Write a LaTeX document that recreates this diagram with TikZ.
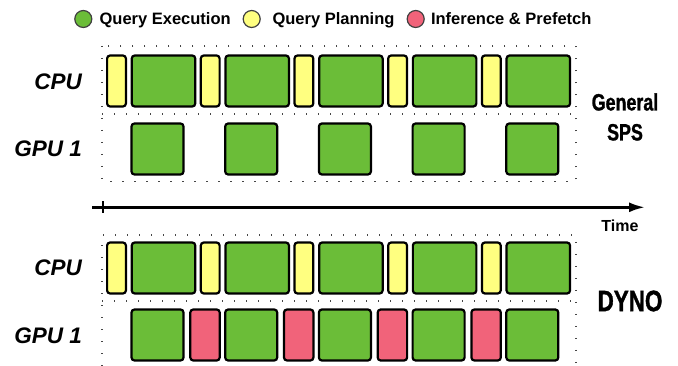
\documentclass[tikz,border=0pt]{standalone}
\usepackage{fontspec}
\setmainfont{Liberation Sans}
\newfontfamily\narrowfont[FakeStretch=0.76,FakeBold=1.2]{Liberation Sans}
\usetikzlibrary{positioning,arrows.meta}

\definecolor{qexec}{RGB}{107,189,56}
\definecolor{qplan}{RGB}{255,255,128}
\definecolor{qinfer}{RGB}{241,99,122}
\definecolor{dotgray}{RGB}{70,70,70}

\tikzset{
  tslot/.style={draw=black, line width=2.2pt, rounded corners=3pt, inner sep=0pt, minimum height=51pt},
  execbox/.style={tslot, fill=qexec, minimum width=63.5pt},
  gpubox/.style={tslot, fill=qexec, minimum width=52pt},
  planbox/.style={tslot, fill=qplan, minimum width=18.8pt},
  prefbox/.style={tslot, fill=qinfer, minimum width=29.4pt},
  lane/.style={draw=dotgray, line width=1.4pt, dash pattern=on 1.4pt off 10.6pt},
  legdot/.style={circle, draw=black!75, line width=1.2pt, minimum size=17pt, inner sep=0pt},
  legtext/.style={font=\bfseries\fontsize{16.5}{18}\selectfont, inner sep=0pt, text height=12pt, text depth=0pt},
  devlabel/.style={font=\bfseries\itshape\fontsize{22.5}{26}\selectfont, inner sep=0pt, anchor=east},
  system/.style={font=\narrowfont\bfseries\fontsize{23.5}{30}\selectfont, inner sep=0pt, align=center}
}

\begin{document}
\begin{tikzpicture}[x=1pt, y=-1pt, >={Latex[length=16pt,width=10pt]}]
\useasboundingbox (0,0) rectangle (678,366);

% legend
\node[legdot, fill=qexec] (legExec) at (83.3,19) {};
\node[legtext, right=7pt of legExec] (txtExec) {Query Execution};
\node[legdot, fill=qplan] (legPlan) at (251.7,19) {};
\node[legtext, right=11.5pt of legPlan] (txtPlan) {Query Planning};
\node[legdot, fill=qinfer] (legInfer) at (415.7,19) {};
\node[legtext, right=6pt of legInfer] (txtInfer) {Inference \& Prefetch};

% dotted lanes
\draw[lane] (102,46) rectangle (576,181.7);
\draw[lane] (102,114) -- (576,114);
\draw[lane] (102,366) -- (102,235) -- (576,235) -- (576,366);
\draw[lane] (102,301) -- (576,301);

% time slots
\foreach \k in {0,...,4} {
  \node[planbox] (planA\k) at (116.5+93.7*\k, 81) {};
  \node[execbox] (execA\k) at (163.5+93.7*\k, 81) {};
  \node[gpubox] (gpuA\k) at (157.5+93.7*\k, 149) {};
  \node[planbox] (planB\k) at (116.5+93.7*\k, 268) {};
  \node[execbox] (execB\k) at (163.5+93.7*\k, 268) {};
  \node[gpubox] (gpuB\k) at (157.5+93.7*\k, 335) {};
}
\foreach \k in {0,...,3}
  \node[prefbox] (prefB\k) at (205+93.7*\k, 335) {};

% devices
\node[devlabel] (cpuLabA) at (82,82) {CPU};
\node[devlabel] (gpuLabA) at (82,149) {GPU 1};
\node[devlabel] (cpuLabB) at (82,268) {CPU};
\node[devlabel] (gpuLabB) at (82,336) {GPU 1};

\node[system] (general) at (625,117) {General\\SPS};
\node[system, font=\narrowfont\bfseries\fontsize{29.5}{30}\selectfont] (dyno) at (630,301) {DYNO};

% time axis
\coordinate (t0) at (92,207.3);
\coordinate (t1) at (645,207.3);
\coordinate (tick) at (103,207.3);
\draw[->, line width=2.6pt] (t0) -- (t1);
\draw[line width=1.5pt] ([yshift=6pt]tick) -- ([yshift=-6pt]tick);
\node[font=\bfseries\fontsize{16}{18}\selectfont, inner sep=0pt] (time) at (620,226) {Time};
\end{tikzpicture}
\end{document}
